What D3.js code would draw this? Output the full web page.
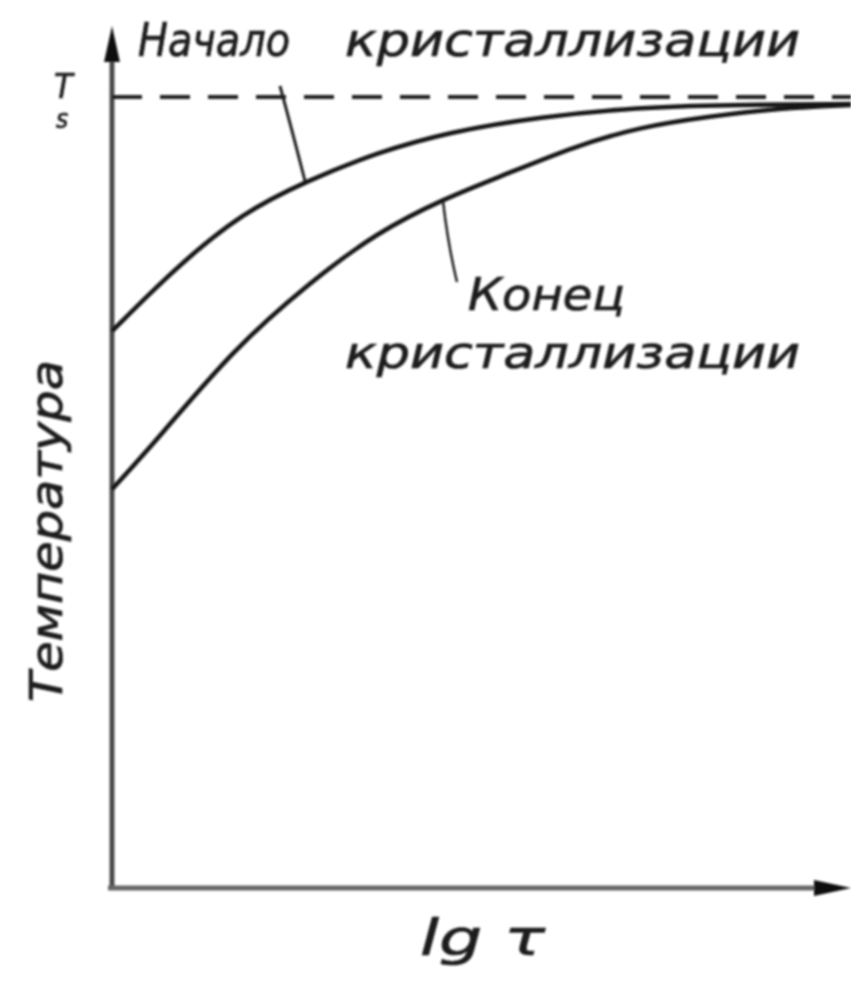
<!DOCTYPE html>
<html>
<head>
<meta charset="utf-8">
<script src="https://cdn.jsdelivr.net/npm/d3@7"></script>
<style>
  html, body { margin: 0; padding: 0; background: #fff; }
  svg { display: block; }
  text { font-family: "DejaVu Sans Condensed", "DejaVu Sans", sans-serif; font-style: italic; fill: #1e1e1e; stroke: #1e1e1e; stroke-width: 0.7px; }
</style>
</head>
<body>
<svg id="chart" width="851" height="984"></svg>
<script>
// lg τ (relative units) against temperature (percent of T_s)
const startLgTau = [0, 0.88, 1.77, 2.64, 3.59, 4.57, 5.79, 7.14, 8.27, 10];
const startTemp  = [70.4, 78.6, 85.4, 89.4, 93.0, 95.6, 97.5, 98.7, 99.0, 99.1];

const endLgTau = [0, 0.65, 1.64, 2.68, 3.59, 4.48, 5.35, 6.24, 7.14, 8.05, 9.04, 10];
const endTemp  = [50.4, 57.1, 68.1, 76.6, 82.9, 87.1, 90.3, 93.7, 96.2, 97.5, 98.6, 99.0];

const tsLevel = 100;
const labels = {
  start: ["Начало", "кристаллизации"],
  end: ["Конец", "кристаллизации"],
  yAxis: "Температура",
  xAxis: "lg τ",
  ts: ["T", "s"]
};

const svg = d3.select("#chart");
const defs = svg.append("defs");
defs.append("filter").attr("id", "soft")
  .append("feGaussianBlur").attr("stdDeviation", 0.9);

const g = svg.append("g").attr("filter", "url(#soft)");

const x = d3.scaleLinear().domain([0, 10]).range([112, 851]);
const y = d3.scaleLinear().domain([0, 100]).range([888, 97]);

// axes with arrowheads
g.append("line")
  .attr("x1", x(0)).attr("x2", x(0))
  .attr("y1", y(0) + 2).attr("y2", 50)
  .attr("stroke", "#4a4a4a").attr("stroke-width", 5);
g.append("path")
  .attr("d", `M${x(0)},26 L${x(0) - 8},62 L${x(0) + 8},62 Z`)
  .attr("fill", "#111");

g.append("line")
  .attr("x1", x(0) - 4).attr("x2", 820)
  .attr("y1", y(0)).attr("y2", y(0))
  .attr("stroke", "#666").attr("stroke-width", 5);
g.append("path")
  .attr("d", `M851,${y(0)} L814,${y(0) - 8} L814,${y(0) + 8} Z`)
  .attr("fill", "#111");

// T_s level
g.append("line")
  .attr("x1", x(0)).attr("x2", x(10))
  .attr("y1", y(tsLevel)).attr("y2", y(tsLevel))
  .attr("stroke", "#222").attr("stroke-width", 4)
  .attr("stroke-dasharray", "30 18");

const line = d3.line()
  .x(d => x(d[0])).y(d => y(d[1]))
  .curve(d3.curveBasis);

g.append("path")
  .datum(d3.zip(startLgTau, startTemp))
  .attr("d", line)
  .attr("fill", "none").attr("stroke", "#161616").attr("stroke-width", 4.5);

g.append("path")
  .datum(d3.zip(endLgTau, endTemp))
  .attr("d", line)
  .attr("fill", "none").attr("stroke", "#161616").attr("stroke-width", 4.5);

// leader lines
g.append("path")
  .attr("d", `M280,86 Q292,130 305,181`)
  .attr("fill", "none").attr("stroke", "#222").attr("stroke-width", 3);
g.append("path")
  .attr("d", `M443,201 Q448,245 457,282`)
  .attr("fill", "none").attr("stroke", "#222").attr("stroke-width", 2.5);

// labels
function label(txt, xPos, yPos, size, len) {
  return g.append("text")
    .attr("x", xPos).attr("y", yPos)
    .attr("font-size", size)
    .attr("textLength", len).attr("lengthAdjust", "spacingAndGlyphs")
    .text(txt);
}
label(labels.start[0], 138, 56, 46, 152);
label(labels.start[1], 345, 56, 46, 455);
label(labels.end[0], 468, 310, 44, 157);
label(labels.end[1], 345, 368, 44, 455);

g.append("text")
  .attr("transform", "translate(62,702) rotate(-90)")
  .attr("font-size", 44)
  .attr("textLength", 342).attr("lengthAdjust", "spacingAndGlyphs")
  .text(labels.yAxis);

g.append("text")
  .attr("x", 420).attr("y", 955)
  .attr("font-size", 50)
  .attr("textLength", 125).attr("lengthAdjust", "spacingAndGlyphs")
  .text(labels.xAxis);

// T_s mark at the top of the temperature axis
g.append("text").attr("x", 54).attr("y", 98).attr("font-size", 34).text(labels.ts[0]);
g.append("text").attr("x", 56).attr("y", 128).attr("font-size", 26).text(labels.ts[1]);
</script>
</body>
</html>
